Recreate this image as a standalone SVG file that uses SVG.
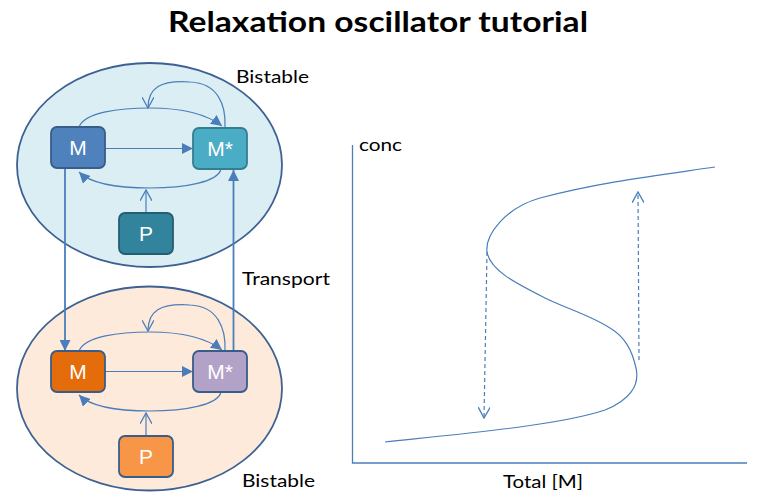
<svg xmlns="http://www.w3.org/2000/svg" width="762" height="504" viewBox="0 0 762 504">
<defs>
<style>
.lbl{font-family:Lato,"Liberation Sans",sans-serif;font-size:18px;fill:#000}
.box{stroke-width:1.8}
.bt{font-family:"Liberation Sans",Arial,sans-serif;font-size:21px;fill:#fff;text-anchor:middle}
.ln{fill:none;stroke:#4A7EBB;stroke-width:1.2}
.tr{fill:none;stroke:#4A7EBB;stroke-width:1.8}
.ds{fill:none;stroke:#4A7EBB;stroke-width:1.2;stroke-dasharray:4 3}
</style>
<marker id="fa" viewBox="0 0 10 10" refX="10" refY="5" markerWidth="11" markerHeight="11" markerUnits="userSpaceOnUse" orient="auto">
<path d="M0,0 L10,5 L0,10 Z" fill="#4A7EBB"/>
</marker>
<marker id="oa" viewBox="0 0 10 10" refX="9" refY="5" markerWidth="12" markerHeight="12" markerUnits="userSpaceOnUse" orient="auto">
<path d="M0,0 L9,5 L0,10" fill="none" stroke="#4A7EBB" stroke-width="1.1"/>
</marker>
</defs>
<rect width="762" height="504" fill="#fff"/>
<text x="378" y="32" font-family="Lato,'Liberation Sans',sans-serif" font-weight="bold" font-size="28" text-anchor="middle" textLength="420" lengthAdjust="spacingAndGlyphs">Relaxation oscillator tutorial</text>

<g id="cell-top">
<ellipse cx="149.500" cy="165" rx="132.500" ry="102" fill="#DBEEF4" stroke="#3E6193" stroke-width="1.8"/>
</g>
<g id="cell-bottom">
<ellipse cx="149.500" cy="388.500" rx="132.500" ry="102" fill="#FDEADA" stroke="#3E6193" stroke-width="1.8"/>
</g>

<g id="connectors">
<line class="ln" x1="105" y1="148.500" x2="193" y2="148.500" marker-end="url(#fa)"/>
<path class="ln" d="M79,127 C85,112 120,108 150,108 C180,108 205,113 222,126" marker-end="url(#fa)"/>
<path class="ln" d="M225,127 C226,105 218,83 190,82 C160,80 148,88 148,108" marker-end="url(#oa)"/>
<path class="ln" d="M221,169 C218,182 185,188 150,188 C115,188 90,183 79,172" marker-end="url(#fa)"/>
<line class="ln" x1="146" y1="213" x2="146" y2="190" marker-end="url(#oa)"/>
<line class="ln" x1="105" y1="371.500" x2="193" y2="371.500" marker-end="url(#fa)"/>
<path class="ln" d="M79,351 C85,336 120,332 150,332 C180,332 205,337 222,350" marker-end="url(#fa)"/>
<path class="ln" d="M225,351 C226,329 218,306 190,305 C160,303 148,311 148,331" marker-end="url(#oa)"/>
<path class="ln" d="M221,392 C218,405 185,411 150,411 C115,411 90,406 79,395" marker-end="url(#fa)"/>
<line class="ln" x1="146" y1="436" x2="146" y2="413" marker-end="url(#oa)"/>
<line class="tr" x1="65" y1="168" x2="65" y2="351" marker-end="url(#fa)"/>
<line class="tr" x1="233.500" y1="352" x2="233.500" y2="170" marker-end="url(#fa)"/>
</g>

<g id="M-top"><rect class="box" x="51" y="127" width="54" height="41" rx="6" fill="#4F81BD" stroke="#385D8A"/><text class="bt" x="78" y="155">M</text></g>
<g id="Mstar-top"><rect class="box" x="193" y="128" width="54" height="41" rx="6" fill="#4BACC6" stroke="#357D91"/><text class="bt" x="220" y="156">M*</text></g>
<g id="P-top"><rect class="box" x="119" y="213" width="54" height="41" rx="6" fill="#31849B" stroke="#235F70"/><text class="bt" x="146" y="241">P</text></g>

<g id="M-bottom"><rect class="box" x="51" y="351" width="54" height="41" rx="6" fill="#E46C0A" stroke="#385D8A"/><text class="bt" x="78" y="379">M</text></g>
<g id="Mstar-bottom"><rect class="box" x="193" y="351" width="54" height="41" rx="6" fill="#B3A2C7" stroke="#385D8A"/><text class="bt" x="220" y="379">M*</text></g>
<g id="P-bottom"><rect class="box" x="119" y="436" width="54" height="41" rx="6" fill="#F79646" stroke="#385D8A"/><text class="bt" x="146" y="464">P</text></g>

<text class="lbl" x="236" y="83" textLength="73" lengthAdjust="spacingAndGlyphs">Bistable</text>
<text class="lbl" x="242" y="285" textLength="88" lengthAdjust="spacingAndGlyphs">Transport</text>
<text class="lbl" x="242" y="487" textLength="73" lengthAdjust="spacingAndGlyphs">Bistable</text>

<g id="chart">
<polyline fill="none" stroke="#4A7EBB" stroke-width="1.3" points="352.500,145 352.500,463 747,463"/>
<path fill="none" stroke="#4A7EBB" stroke-width="1.2" d="M385,442 C470,433 560,425 605,410 C630,400 640,385 636,368 C632,350 625,337 610,328 C590,315 565,308 545,298 C515,283 490,270 487,252 C485,235 505,208 540,198 C600,182 660,175 715,167"/>
<line class="ds" x1="487" y1="252" x2="484" y2="418" marker-end="url(#oa)"/>
<line class="ds" x1="639" y1="360" x2="638" y2="192" marker-end="url(#oa)"/>
<text class="lbl" x="359" y="151" textLength="43" lengthAdjust="spacingAndGlyphs">conc</text>
<text class="lbl" x="503" y="488" textLength="80" lengthAdjust="spacingAndGlyphs">Total [M]</text>
</g>
</svg>
